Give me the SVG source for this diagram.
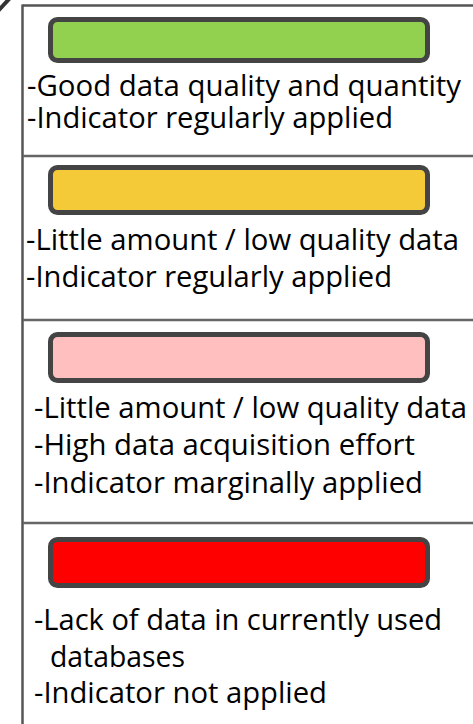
<svg xmlns="http://www.w3.org/2000/svg" width="473" height="724" viewBox="0 0 473 724">
<style>
.frame{stroke:#555;stroke-width:2.5;fill:none}
.sep{stroke:#666;stroke-width:2.5}
.bar{stroke:#444;stroke-width:5}
.t{font-family:"Open Sans","Noto Sans","DejaVu Sans",sans-serif;font-size:29px;fill:#000}
</style>
<rect width="473" height="724" fill="#fff"/>
<line x1="10" y1="-2" x2="-2" y2="11" stroke="#333" stroke-width="4"/>
<g id="frame">
<line class="frame" x1="22.5" y1="5.5" x2="473" y2="5.5"/>
<line class="frame" x1="22.5" y1="4.5" x2="22.5" y2="724"/>
</g>
<g id="connectors">
<line class="sep" x1="23" y1="156" x2="473" y2="156"/>
<line class="sep" x1="23" y1="320" x2="473" y2="320"/>
<line class="sep" x1="23" y1="523" x2="473" y2="523"/>
</g>
<g id="green">
<rect class="bar" x="50.5" y="19.5" width="377" height="41" rx="7" fill="#92D050"/>
<text class="t" x="27" y="96" textLength="434" lengthAdjust="spacingAndGlyphs">-Good data quality and quantity</text>
<text class="t" x="27" y="128" textLength="366" lengthAdjust="spacingAndGlyphs">-Indicator regularly applied</text>
</g>
<g id="yellow">
<rect class="bar" x="50.5" y="167.5" width="377" height="45" rx="7" fill="#F4CA38"/>
<text class="t" x="26" y="250" textLength="433" lengthAdjust="spacingAndGlyphs">-Little amount / low quality data</text>
<text class="t" x="26" y="287" textLength="366" lengthAdjust="spacingAndGlyphs">-Indicator regularly applied</text>
</g>
<g id="pink">
<rect class="bar" x="50.5" y="334.5" width="377" height="46" rx="7" fill="#FFBFBF"/>
<text class="t" x="34" y="418" textLength="433" lengthAdjust="spacingAndGlyphs">-Little amount / low quality data</text>
<text class="t" x="34" y="455" textLength="381" lengthAdjust="spacingAndGlyphs">-High data acquisition effort</text>
<text class="t" x="34" y="493" textLength="389" lengthAdjust="spacingAndGlyphs">-Indicator marginally applied</text>
</g>
<g id="red">
<rect class="bar" x="50.5" y="539.5" width="377" height="46" rx="7" fill="#FF0000"/>
<text class="t" x="34" y="630" textLength="408" lengthAdjust="spacingAndGlyphs">-Lack of data in currently used</text>
<text class="t" x="50" y="667" textLength="135" lengthAdjust="spacingAndGlyphs">databases</text>
<text class="t" x="34" y="703" textLength="293" lengthAdjust="spacingAndGlyphs">-Indicator not applied</text>
</g>
</svg>
